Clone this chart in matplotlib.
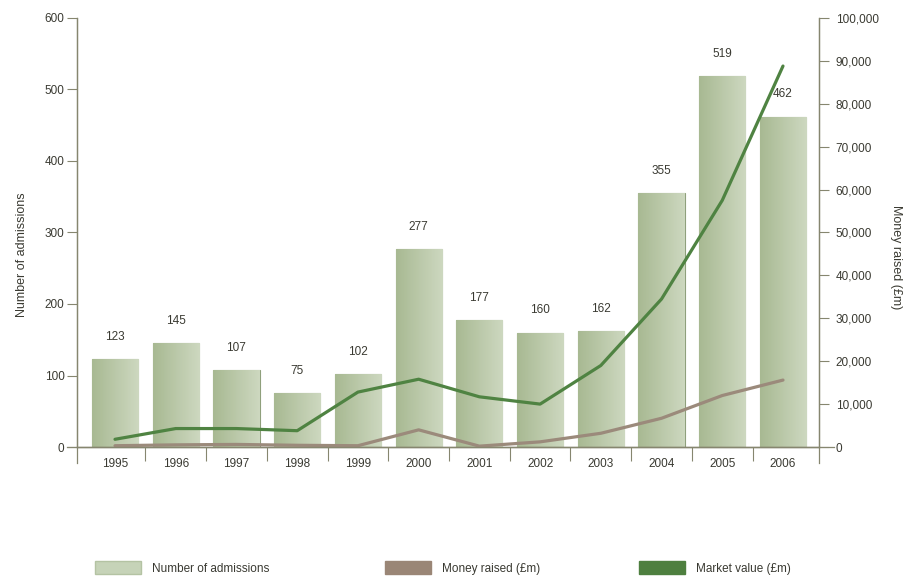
import numpy as np
import matplotlib
matplotlib.use("Agg")
import matplotlib.pyplot as plt
from matplotlib.patches import Patch

plt.rcParams['font.family'] = ['Liberation Sans', 'DejaVu Sans']

years = ['1995', '1996', '1997', '1998', '1999', '2000',
         '2001', '2002', '2003', '2004', '2005', '2006']
admissions = [123, 145, 107, 75, 102, 277, 177, 160, 162, 355, 519, 462]
money_raised = [300, 500, 600, 400, 300, 4000, 200, 1200, 3200, 6700, 12000, 15600]
market_value = [1800, 4300, 4300, 3800, 12800, 15800, 11700, 10000, 19000, 34500, 57500, 88800]

axis_col = '#86866f'
text_col = '#3a3a32'
bar_edge = '#8fa07c'
green = '#4f8342'
brown = '#9b8a7b'

fig = plt.figure(figsize=(9.06, 5.77), dpi=100)
ax = fig.add_axes([77 / 906, 1 - 447 / 577, (819 - 77) / 906, (447 - 18) / 577])
ax2 = ax.twinx()

x = np.arange(len(years))
bars = ax.bar(x, admissions, width=0.76, color='#bccaa9', edgecolor=bar_edge, linewidth=0.8)

# horizontal gradient inside each bar
grad = np.linspace(0, 1, 64).reshape(1, -1)
cmap = matplotlib.colors.LinearSegmentedColormap.from_list('g', ['#a8b992', '#cdd8c0'])
for b in bars:
    x0, y0 = b.get_x(), b.get_y()
    im = ax.imshow(grad, cmap=cmap, aspect='auto', zorder=b.get_zorder(),
                   extent=[x0, x0 + b.get_width(), y0, y0 + b.get_height()])
    im.set_clip_path(b)

for xi, v in zip(x, admissions):
    ax.annotate(str(v), (xi, v), xytext=(0, 16), textcoords='offset points',
                ha='center', va='center', fontsize=8.5, color=text_col)

ax2.plot(x, money_raised, color=brown, linewidth=2.3, solid_capstyle='round')
ax2.plot(x, market_value, color=green, linewidth=2.3, solid_capstyle='round')

ax.set_xlim(-0.626, 11.593)
ax.set_ylim(0, 600)
ax2.set_ylim(0, 100000)

ax.set_yticks(range(0, 601, 100))
ax2.set_yticks(range(0, 100001, 10000))
ax2.set_yticklabels(['0'] + [f'{v:,}' for v in range(10000, 100001, 10000)])

ax.set_xticks(x)
ax.set_xticklabels(years)
ax.set_xticks(np.arange(0.5, 11, 1), minor=True)
ax.tick_params(axis='x', which='major', length=0, pad=8, labelsize=8.5, labelcolor=text_col)
ax.tick_params(axis='x', which='minor', length=10, width=0.8, color=axis_col, direction='out')
ax.tick_params(axis='y', length=7, width=0.8, color=axis_col, labelsize=8.5,
               labelcolor=text_col, pad=2)
ax2.tick_params(axis='y', length=7, width=0.8, color=axis_col, labelsize=8.5,
                labelcolor=text_col, pad=5)

for a in (ax, ax2):
    a.spines['top'].set_visible(False)
    for s in ('left', 'right', 'bottom'):
        a.spines[s].set_color(axis_col)
        a.spines[s].set_linewidth(0.9)

# extend the baseline and the side axes a little past the plot frame
ax.plot([-0.014, 1.02], [0, 0], transform=ax.transAxes, color=axis_col,
        linewidth=0.9, clip_on=False)
ax.plot([0, 0], [-0.037, 0], transform=ax.transAxes, color=axis_col,
        linewidth=0.9, clip_on=False)
ax.plot([1, 1], [-0.037, 0], transform=ax.transAxes, color=axis_col,
        linewidth=0.9, clip_on=False)

fig.text(22 / 906, 1 - 255 / 577, 'Number of admissions', rotation=90,
         ha='center', va='center', fontsize=9, color=text_col)
fig.text(896 / 906, 1 - 257 / 577, 'Money raised (£m)', rotation=-90,
         ha='center', va='center', fontsize=9, color=text_col)

leg_items = [
    (Patch(facecolor='#c6d3b8', edgecolor='#b4c3a3'), 'Number of admissions', 95),
    (Patch(facecolor='#9a8676', edgecolor='#9a8676'), 'Money raised (£m)', 385),
    (Patch(facecolor='#4e7f3f', edgecolor='#4e7f3f'), 'Market value (£m)', 639),
]
for h, lab, px in leg_items:
    fig.legend([h], [lab], loc='center left', bbox_to_anchor=(px / 906, 1 - 568 / 577),
               frameon=False, fontsize=8.5, handlelength=3.9, handleheight=1.3,
               borderpad=0, borderaxespad=0, handletextpad=0.9,
               labelcolor=text_col)

fig.savefig('out.png', dpi=100)
